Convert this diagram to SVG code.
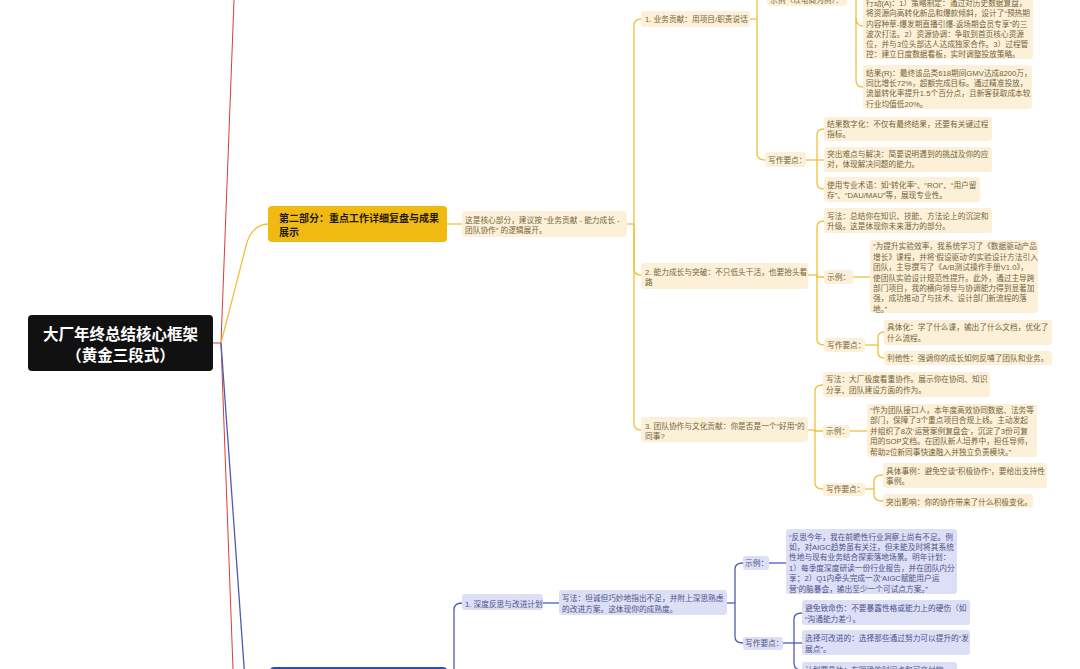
<svg xmlns="http://www.w3.org/2000/svg" width="1080" height="669" viewBox="0 0 1080 669">
<style>
  .yb{fill:#FCF1D8}
  .bb{fill:#DCDFF5}
  .t{font-family:"Liberation Sans","Noto Sans CJK SC",sans-serif;font-size:7.7px}
  .yt{fill:#73643C}
  .bt{fill:#4D5389}
  .yl{fill:none;stroke:#EFC13A;stroke-width:1.3}
  .bl{fill:none;stroke:#4E5CB0;stroke-width:1.3}
  .rl{fill:none;stroke:#DD3C3C;stroke-width:1}
</style>
<rect width="1080" height="669" fill="#FFFFFF"/>

<!-- connectors -->
<g id="connectors">
  <!-- root fan-out -->
  <path class="rl" d="M213,343 H221"/>
  <path class="rl" d="M221,343 L234,0"/>
  <path class="rl" d="M221,343 L233,669"/>
  <path class="yl" d="M221,343 L246,246 Q251,225 268,224"/>
  <path class="bl" d="M221,343 L245,680"/>
  <!-- part two -->
  <path class="yl" d="M447,224 H462"/>
  <path class="yl" d="M627,224 H634"/>
  <path class="yl" d="M634,224 V26 Q634,19 641,19"/>
  <path class="yl" d="M634,224 V268 Q634,275 641,275"/>
  <path class="yl" d="M634,224 V423 Q634,430 641,430"/>
  <!-- item 1 -->
  <path class="yl" d="M750,19 H757"/>
  <path class="yl" d="M757,19 V-12"/>
  <path class="yl" d="M757,19 V153 Q757,160 765,160"/>
  <path class="yl" d="M847,-4 H856 V80 Q856,87 863,87"/>
  <path class="yl" d="M856,18 Q856,26 863,26"/>
  <path class="yl" d="M806,160 H817"/>
  <path class="yl" d="M817,160 V135 Q817,129 824,129"/>
  <path class="yl" d="M817,160 H824"/>
  <path class="yl" d="M817,160 V183 Q817,189 824,189"/>
  <!-- item 2 -->
  <path class="yl" d="M808,275 H817"/>
  <path class="yl" d="M817,275 V227 Q817,221 824,221"/>
  <path class="yl" d="M817,275 V277 H824"/>
  <path class="yl" d="M817,275 V339 Q817,345 824,345"/>
  <path class="yl" d="M853,277 H870"/>
  <path class="yl" d="M865,345 H878"/>
  <path class="yl" d="M878,345 V338 Q878,332 884,332"/>
  <path class="yl" d="M878,345 V352 Q878,358 884,358"/>
  <!-- item 3 -->
  <path class="yl" d="M808,430 H815"/>
  <path class="yl" d="M815,430 V391 Q815,385 823,385"/>
  <path class="yl" d="M815,430 V431 H823"/>
  <path class="yl" d="M815,430 V483 Q815,489 823,489"/>
  <path class="yl" d="M850,431 H867"/>
  <path class="yl" d="M865,489 H874"/>
  <path class="yl" d="M874,489 V481 Q874,475 883,475"/>
  <path class="yl" d="M874,489 V495 Q874,501 883,501"/>
  <!-- part three -->
  <path class="bl" d="M447,690 H454 V610 Q454,603 462,603"/>
  <path class="bl" d="M543,603 H559"/>
  <path class="bl" d="M727,603 H735"/>
  <path class="bl" d="M735,603 V569 Q735,563 743,563"/>
  <path class="bl" d="M735,603 V637 Q735,643 743,643"/>
  <path class="bl" d="M769,563 H786"/>
  <path class="bl" d="M783,643 H794"/>
  <path class="bl" d="M794,643 V619 Q794,613 802,613"/>
  <path class="bl" d="M794,643 H802"/>
  <path class="bl" d="M794,643 V663 Q794,670 802,670"/>
</g>

<!-- root -->
<g id="root">
  <rect x="28" y="315" width="185" height="56" rx="4" fill="#111111"/>
  <text x="120.5" y="340" text-anchor="middle" font-family="'Noto Sans CJK SC',sans-serif" font-size="15.5" font-weight="bold" fill="#FFFFFF">大厂年终总结核心框架</text>
  <text x="120.5" y="361" text-anchor="middle" font-family="'Noto Sans CJK SC',sans-serif" font-size="15.5" font-weight="bold" fill="#FFFFFF">（黄金三段式）</text>
</g>

<!-- part two -->
<g id="part2">
  <rect x="268" y="206" width="179" height="36" rx="4" fill="#F1BA12"/>
  <text x="279" y="221.5" font-family="'Noto Sans CJK SC',sans-serif" font-size="10" font-weight="bold" fill="#1E1A10">第二部分：重点工作详细复盘与成果</text>
  <text x="279" y="235.5" font-family="'Noto Sans CJK SC',sans-serif" font-size="10" font-weight="bold" fill="#1E1A10">展示</text>
</g>
<g id="part2-desc">
  <rect class="yb" x="462" y="211" width="165" height="26" rx="3"/>
  <text class="t yt"><tspan x="465" y="223">这是核心部分，建议按 “业务贡献 - 能力成长 -</tspan><tspan x="465" y="233.3">团队协作” 的逻辑展开。</tspan></text>
</g>

<!-- item 1 -->
<g id="item1">
  <rect class="yb" x="641" y="11" width="109" height="16" rx="3"/>
  <text class="t yt" x="645" y="22">1. 业务贡献：用项目/职责说话</text>
</g>
<g id="item1-example">
  <rect class="yb" x="767" y="-12" width="80" height="18" rx="3"/>
  <text class="t yt" x="770" y="3">示例（以电商为例）：</text>
</g>
<g id="item1-action">
  <rect class="yb" x="863" y="-4" width="170" height="63" rx="3"/>
  <text class="t yt">
    <tspan x="866" y="6.2">行动(A)：1）策略制定：通过对历史数据复盘，</tspan>
    <tspan x="866" y="16.4">将资源向高转化新品和爆款倾斜，设计了“预热期</tspan>
    <tspan x="866" y="26.6">内容种草-爆发期直播引爆-返场期会员专享”的三</tspan>
    <tspan x="866" y="36.8">波次打法。2）资源协调：争取到首页核心资源</tspan>
    <tspan x="866" y="47">位，并与3位头部达人达成独家合作。3）过程管</tspan>
    <tspan x="866" y="57.2">控：建立日度数据看板，实时调整投放策略。</tspan>
  </text>
</g>
<g id="item1-result">
  <rect class="yb" x="863" y="65" width="169" height="44" rx="3"/>
  <text class="t yt">
    <tspan x="866" y="75.6">结果(R)：最终该品类618期间GMV达成8200万，</tspan>
    <tspan x="866" y="86">同比增长72%，超额完成目标。通过精准投放，</tspan>
    <tspan x="866" y="96.4">流量转化率提升1.5个百分点，且新客获取成本较</tspan>
    <tspan x="866" y="106.8">行业均值低20%。</tspan>
  </text>
</g>
<g id="item1-tips">
  <rect class="yb" x="765" y="152" width="41" height="15" rx="3"/>
  <text class="t yt" x="768" y="163">写作要点：</text>
</g>
<g id="item1-tip1">
  <rect class="yb" x="824" y="117" width="168" height="24" rx="3"/>
  <text class="t yt"><tspan x="827" y="127">结果数字化：不仅有最终结果，还要有关键过程</tspan><tspan x="827" y="137.4">指标。</tspan></text>
</g>
<g id="item1-tip2">
  <rect class="yb" x="824" y="147" width="168" height="25" rx="3"/>
  <text class="t yt"><tspan x="827" y="157">突出难点与解决：简要说明遇到的挑战及你的应</tspan><tspan x="827" y="167.4">对，体现解决问题的能力。</tspan></text>
</g>
<g id="item1-tip3">
  <rect class="yb" x="824" y="177" width="156" height="25" rx="3"/>
  <text class="t yt"><tspan x="827" y="188">使用专业术语：如“转化率”、“ROI”、“用户留</tspan><tspan x="827" y="198.4">存”、“DAU/MAU”等，展现专业性。</tspan></text>
</g>

<!-- item 2 -->
<g id="item2">
  <rect class="yb" x="641" y="263" width="167" height="26" rx="3"/>
  <text class="t yt"><tspan x="645" y="275">2. 能力成长与突破：不只低头干活，也要抬头看</tspan><tspan x="645" y="285.3">路</tspan></text>
</g>
<g id="item2-method">
  <rect class="yb" x="824" y="208" width="168" height="25" rx="3"/>
  <text class="t yt"><tspan x="827" y="219">写法：总结你在知识、技能、方法论上的沉淀和</tspan><tspan x="827" y="229.4">升级。这是体现你未来潜力的部分。</tspan></text>
</g>
<g id="item2-example-label">
  <rect class="yb" x="824" y="270" width="29" height="14" rx="3"/>
  <text class="t yt" x="827" y="280">示例：</text>
</g>
<g id="item2-example">
  <rect class="yb" x="870" y="240" width="168" height="73" rx="3"/>
  <text class="t yt">
    <tspan x="873" y="249.4">“为提升实验效率，我系统学习了《数据驱动产品</tspan>
    <tspan x="873" y="259.8">增长》课程，并将‘假设驱动’的实验设计方法引入</tspan>
    <tspan x="873" y="270.2">团队，主导撰写了《A/B测试操作手册V1.0》，</tspan>
    <tspan x="873" y="280.6">使团队实验设计规范性提升。此外，通过主导跨</tspan>
    <tspan x="873" y="291">部门项目，我的横向领导与协调能力得到显著加</tspan>
    <tspan x="873" y="301.4">强，成功推动了与技术、设计部门新流程的落</tspan>
    <tspan x="873" y="311.8">地。”</tspan>
  </text>
</g>
<g id="item2-tips">
  <rect class="yb" x="824" y="338" width="41" height="14" rx="3"/>
  <text class="t yt" x="827" y="348">写作要点：</text>
</g>
<g id="item2-tip1">
  <rect class="yb" x="884" y="320" width="168" height="25" rx="3"/>
  <text class="t yt"><tspan x="887" y="330.2">具体化：学了什么课，输出了什么文档，优化了</tspan><tspan x="887" y="340.6">什么流程。</tspan></text>
</g>
<g id="item2-tip2">
  <rect class="yb" x="884" y="351" width="168" height="14" rx="3"/>
  <text class="t yt" x="887" y="361">利他性：强调你的成长如何反哺了团队和业务。</text>
</g>

<!-- item 3 -->
<g id="item3">
  <rect class="yb" x="641" y="417" width="167" height="25" rx="3"/>
  <text class="t yt"><tspan x="645" y="428.6">3. 团队协作与文化贡献：你是否是一个“好用”的</tspan><tspan x="645" y="439">同事?</tspan></text>
</g>
<g id="item3-method">
  <rect class="yb" x="823" y="372" width="167" height="25" rx="3"/>
  <text class="t yt"><tspan x="826" y="382.2">写法：大厂极度看重协作。展示你在协同、知识</tspan><tspan x="826" y="392.6">分享、团队建设方面的作为。</tspan></text>
</g>
<g id="item3-example-label">
  <rect class="yb" x="823" y="425" width="27" height="13" rx="3"/>
  <text class="t yt" x="826" y="434">示例：</text>
</g>
<g id="item3-example">
  <rect class="yb" x="867" y="404" width="170" height="53" rx="3"/>
  <text class="t yt">
    <tspan x="870" y="413">“作为团队接口人，本年度高效协同数据、法务等</tspan>
    <tspan x="870" y="423.4">部门，保障了3个重点项目合规上线。主动发起</tspan>
    <tspan x="870" y="433.8">并组织了8次‘运营案例复盘会’，沉淀了3份可复</tspan>
    <tspan x="870" y="444.2">用的SOP文档。在团队新人培养中，担任导师，</tspan>
    <tspan x="870" y="454.6">帮助2位新同事快速融入并独立负责模块。”</tspan>
  </text>
</g>
<g id="item3-tips">
  <rect class="yb" x="823" y="483" width="42" height="13" rx="3"/>
  <text class="t yt" x="826" y="492">写作要点：</text>
</g>
<g id="item3-tip1">
  <rect class="yb" x="883" y="463" width="164" height="25" rx="3"/>
  <text class="t yt"><tspan x="886" y="474">具体事例：避免空谈“积极协作”，要给出支持性</tspan><tspan x="886" y="484.4">事例。</tspan></text>
</g>
<g id="item3-tip2">
  <rect class="yb" x="883" y="494" width="150" height="14" rx="3"/>
  <text class="t yt" x="886" y="504.5">突出影响：你的协作带来了什么积极变化。</text>
</g>

<!-- part three -->
<g id="part3">
  <rect x="270" y="667" width="177" height="36" rx="4" fill="#2E4DB8"/>
</g>
<g id="part3-item1">
  <rect class="bb" x="462" y="594" width="81" height="16" rx="3"/>
  <text class="t bt" x="465" y="607">1. 深度反思与改进计划</text>
</g>
<g id="part3-method">
  <rect class="bb" x="559" y="590" width="168" height="25" rx="3"/>
  <text class="t bt"><tspan x="562" y="601.2">写法：坦诚但巧妙地指出不足，并附上深思熟虑</tspan><tspan x="562" y="611.6">的改进方案。这体现你的成熟度。</tspan></text>
</g>
<g id="part3-example-label">
  <rect class="bb" x="743" y="556" width="26" height="14" rx="3"/>
  <text class="t bt" x="745" y="566">示例：</text>
</g>
<g id="part3-example">
  <rect class="bb" x="786" y="529" width="171" height="65" rx="3"/>
  <text class="t bt">
    <tspan x="789" y="539.6">“反思今年，我在前瞻性行业洞察上尚有不足。例</tspan>
    <tspan x="789" y="550">如，对AIGC趋势虽有关注，但未能及时将其系统</tspan>
    <tspan x="789" y="560.4">性地与现有业务结合探索落地场景。明年计划：</tspan>
    <tspan x="789" y="570.8">1）每季度深度研读一份行业报告，并在团队内分</tspan>
    <tspan x="789" y="581.2">享；2）Q1内牵头完成一次‘AIGC赋能用户运</tspan>
    <tspan x="789" y="591.6">营’的脑暴会，输出至少一个可试点方案。”</tspan>
  </text>
</g>
<g id="part3-tips">
  <rect class="bb" x="743" y="637" width="40" height="13" rx="3"/>
  <text class="t bt" x="745" y="646">写作要点：</text>
</g>
<g id="part3-tip1">
  <rect class="bb" x="802" y="600" width="168" height="25" rx="3"/>
  <text class="t bt"><tspan x="805" y="611.2">避免致命伤：不要暴露性格或能力上的硬伤（如</tspan><tspan x="805" y="621.6">“沟通能力差”）。</tspan></text>
</g>
<g id="part3-tip2">
  <rect class="bb" x="802" y="630" width="168" height="25" rx="3"/>
  <text class="t bt"><tspan x="805" y="641.2">选择可改进的：选择那些通过努力可以提升的“发</tspan><tspan x="805" y="651.6">展点”。</tspan></text>
</g>
<g id="part3-tip3">
  <rect class="bb" x="802" y="662" width="155" height="16" rx="3"/>
  <text class="t bt" x="805" y="672.5">计划要具体：有明确的时间点和可交付物。</text>
</g>
</svg>
